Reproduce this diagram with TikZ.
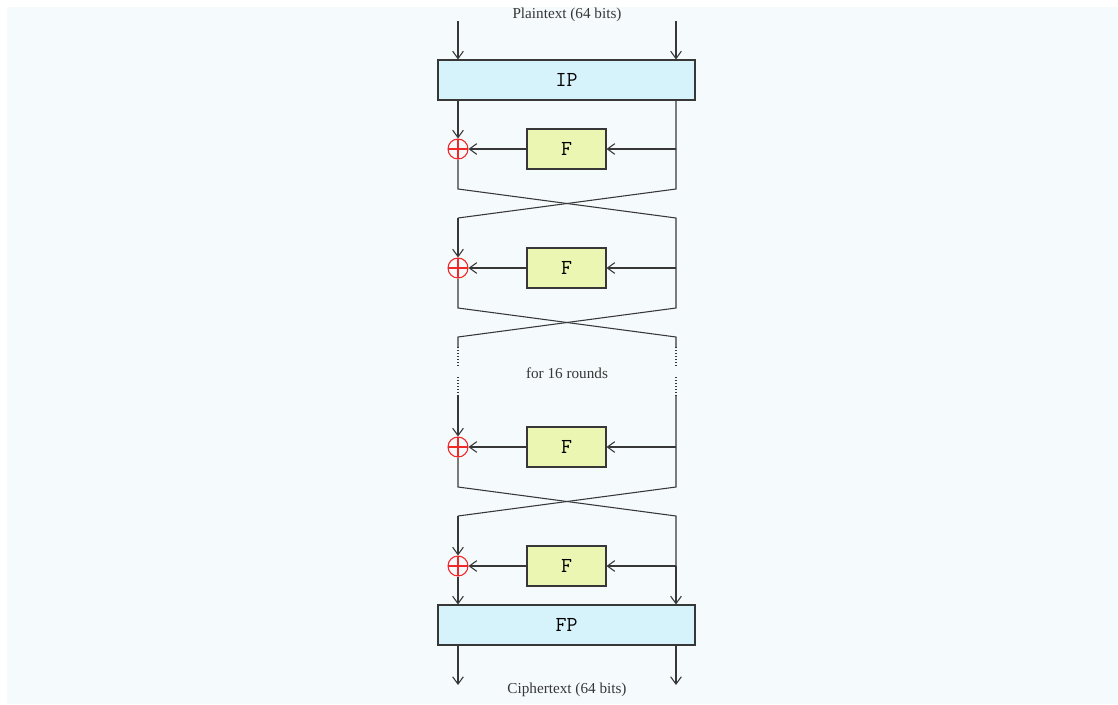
\documentclass[tikz,border=0pt]{standalone}
\usepackage{fontspec}
\setmainfont{Liberation Serif}
\usetikzlibrary{arrows.meta}
\definecolor{bgc}{RGB}{245,250,253}
\definecolor{permc}{RGB}{214,242,250}
\definecolor{fc}{RGB}{234,246,178}
\definecolor{linec}{RGB}{55,55,55}
\definecolor{xorc}{RGB}{240,40,40}
\begin{document}
\begin{tikzpicture}[x=0.75pt,y=-0.75pt,
  line width=0.8pt,
  >={Straight Barb[length=5.5pt,width=8pt]},
  wire/.style={draw=linec},
  permbox/.style={draw=linec,fill=permc,minimum width=192.75pt,minimum height=30pt,inner sep=0pt,font=\ttfamily\fontsize{16}{18}\selectfont},
  fbox/.style={draw=linec,fill=fc,minimum width=59.25pt,minimum height=30pt,inner sep=0pt,font=\ttfamily\fontsize{16}{18}\selectfont},
  xor/.style={circle,draw=xorc,line width=0.8pt,minimum size=15pt,inner sep=0pt,
    path picture={\draw[xorc,line width=0.8pt] (path picture bounding box.north) -- (path picture bounding box.south) (path picture bounding box.west) -- (path picture bounding box.east);}},
  lbl/.style={font=\fontsize{11.4}{13}\selectfont,text=linec,inner sep=0pt},
  dotwire/.style={draw=linec,dash pattern=on 0.9pt off 1.3pt}
]
\useasboundingbox (0,0) rectangle (1118,704);
\fill[white] (0,0) rectangle (1118,704);
\fill[bgc] (7,7) rectangle (1118,704);

% texts
\node[lbl] (pt) at (567,15) {Plaintext (64 bits)};
\node[lbl] (rounds) at (567,373) {for 16 rounds};
\node[lbl] (ct) at (567,690) {Ciphertext (64 bits)};

% permutation boxes
\node[permbox] (ip) at (566.5,80) {IP};
\node[permbox] (fp) at (566.5,625) {FP};

% F boxes and XORs
\foreach \i/\y in {1/149,2/268,3/447,4/566}{
  \node[fbox] (f\i) at (566.5,\y) {F};
  \node[xor] (x\i) at (458,\y) {};
  \coordinate (r\i) at (676,\y);
}

% inputs
\coordinate (inL) at (458,21);
\coordinate (inR) at (676,21);
\draw[wire,->] (inL) -- (inL |- ip.north);
\draw[wire,->] (inR) -- (inR |- ip.north);

% outputs
\coordinate (outL) at (458,685);
\coordinate (outR) at (676,685);
\draw[wire,->] (outL |- fp.south) -- (outL);
\draw[wire,->] (outR |- fp.south) -- (outR);

% F arrows
\foreach \i in {1,2,3,4}{
  \draw[wire,->] (r\i) -- (f\i.east);
  \draw[wire,->] (f\i.west) -- (x\i.east);
}

% round 1
\draw[wire,->] (458,100) -- (x1.north);
\draw[wire] (676,100) -- (r1) -- (676,189) -- (458,218);
\draw[wire] (x1.south) -- (458,189) -- (676,218) -- (r2);
\draw[wire,->] (458,218) -- (x2.north);

% round 2
\draw[wire] (r2) -- (676,308) -- (458,337) -- (458,347);
\draw[wire] (x2.south) -- (458,308) -- (676,337) -- (676,347);
\draw[dotwire] (458,347) -- (458,366) (458,377) -- (458,396);
\draw[dotwire] (676,347) -- (676,366) (676,377) -- (676,396);

% round 3
\draw[wire,->] (458,396) -- (x3.north);
\draw[wire] (676,396) -- (r3) -- (676,487) -- (458,516);
\draw[wire] (x3.south) -- (458,487) -- (676,516) -- (r4);
\draw[wire,->] (458,516) -- (x4.north);

% round 4
\draw[wire,->] (r4) -- (r4 |- fp.north);
\draw[wire,->] (x4.south) -- (x4.south |- fp.north);
\end{tikzpicture}
\end{document}
